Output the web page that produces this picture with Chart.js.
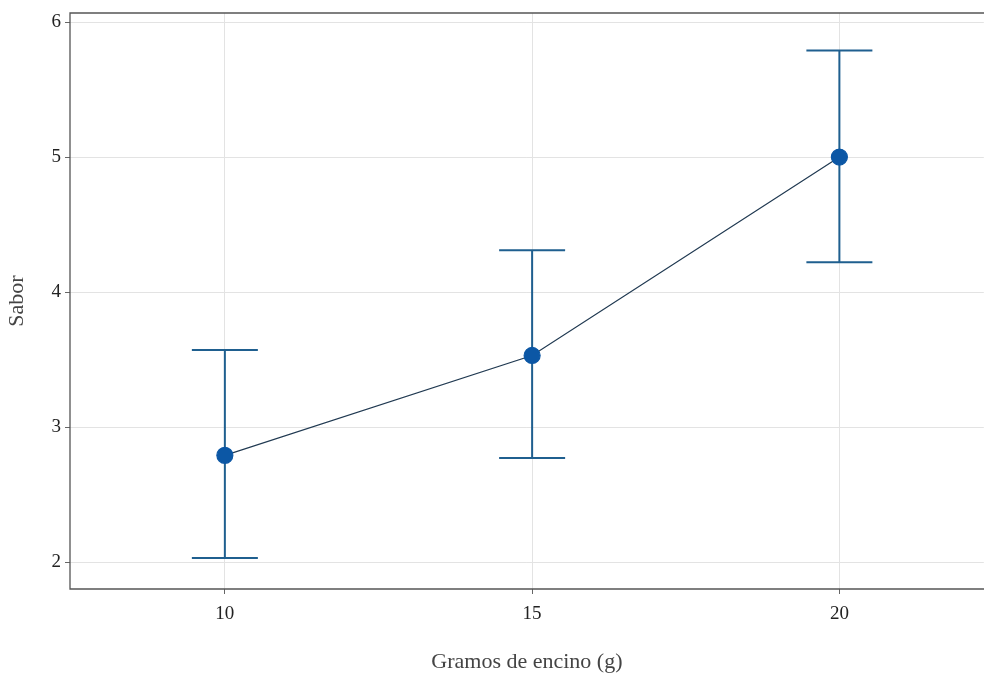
<!DOCTYPE html>
<html>
<head>
<meta charset="utf-8">
<script src="https://cdn.jsdelivr.net/npm/chart.js@4/dist/chart.umd.min.js"></script>
<style>
  html, body { margin: 0; padding: 0; background: #fff; overflow: hidden; }
  #wrap { width: 993px; height: 675px; }
</style>
</head>
<body>
<div id="wrap"><canvas id="grafica"></canvas></div>
<script>
// Gramos de encino y puntuación media de sabor con su intervalo
const gramos = [10, 15, 20];
const sabor = [2.79, 3.53, 5.00];
const saborInf = [2.03, 2.77, 4.22];
const saborSup = [3.57, 4.31, 5.79];
const ticksX = [10, 15, 20];
const ticksY = [2, 3, 4, 5, 6];

const fuente = "'Liberation Serif', 'Times New Roman', serif";

// Barras de error con los extremos horizontales
const barrasError = {
  id: "barrasError",
  beforeDatasetsDraw(chart) {
    const { ctx, scales: { x, y } } = chart;
    ctx.save();
    ctx.strokeStyle = "#1f5f8f";
    ctx.lineWidth = 2;
    gramos.forEach((g, i) => {
      const px = x.getPixelForValue(g);
      const y1 = y.getPixelForValue(saborInf[i]);
      const y2 = y.getPixelForValue(saborSup[i]);
      ctx.beginPath();
      ctx.moveTo(px, y1); ctx.lineTo(px, y2);
      ctx.moveTo(px - 33, y1); ctx.lineTo(px + 33, y1);
      ctx.moveTo(px - 33, y2); ctx.lineTo(px + 33, y2);
      ctx.stroke();
    });
    ctx.restore();
  },
  afterDraw(chart) {
    // marco del panel: arriba, izquierda y abajo
    const { ctx, chartArea: a } = chart;
    ctx.save();
    ctx.strokeStyle = "#555";
    ctx.lineWidth = 1.3;
    ctx.beginPath();
    ctx.moveTo(a.right + 2, a.top);
    ctx.lineTo(a.left, a.top);
    ctx.lineTo(a.left, a.bottom);
    ctx.lineTo(a.right + 2, a.bottom);
    ctx.stroke();
    ctx.restore();
  }
};

new Chart(document.getElementById("grafica"), {
  type: "scatter",
  data: {
    datasets: [{
      data: gramos.map((g, i) => ({ x: g, y: sabor[i] })),
      showLine: true,
      borderColor: "#213a52",
      borderWidth: 1.2,
      pointRadius: 8,
      pointHoverRadius: 8,
      pointBackgroundColor: "#0c57a5",
      pointBorderColor: "#0c57a5",
    }],
  },
  options: {
    responsive: true,
    maintainAspectRatio: false,
    animation: false,
    events: [],
    layout: { padding: { top: 13, right: 0, bottom: 0, left: 0 } },
    plugins: { legend: { display: false }, tooltip: { enabled: false } },
    scales: {
      x: {
        type: "linear",
        min: 7.48,
        max: 22.35,
        afterBuildTicks: s => { s.ticks = ticksX.map(v => ({ value: v })); },
        afterFit: s => { s.height = 86; s.paddingLeft = 0; s.paddingRight = 0; },
        grid: { color: "#e3e3e3", tickColor: "#666", tickLength: 5, lineWidth: 1 },
        border: { display: false },
        ticks: { color: "#222", padding: 9, font: { family: fuente, size: 19 } },
        title: {
          display: true, text: "Gramos de encino (g)", color: "#444",
          font: { family: fuente, size: 22 }, padding: { top: 14, bottom: 0 }
        },
      },
      y: {
        min: 1.80,
        max: 6.067,
        afterBuildTicks: s => { s.ticks = ticksY.map(v => ({ value: v })); },
        afterFit: s => { s.width = 70; s.paddingTop = 0; s.paddingBottom = 0; },
        grid: { color: "#e3e3e3", tickColor: "#666", tickLength: 5, lineWidth: 1 },
        border: { display: false },
        ticks: { color: "#222", padding: 4, font: { family: fuente, size: 19 } },
        title: {
          display: true, text: "Sabor", color: "#444",
          font: { family: fuente, size: 22 }, padding: { top: 4, bottom: 4 }
        },
      },
    },
  },
  plugins: [barrasError],
});
</script>
</body>
</html>
